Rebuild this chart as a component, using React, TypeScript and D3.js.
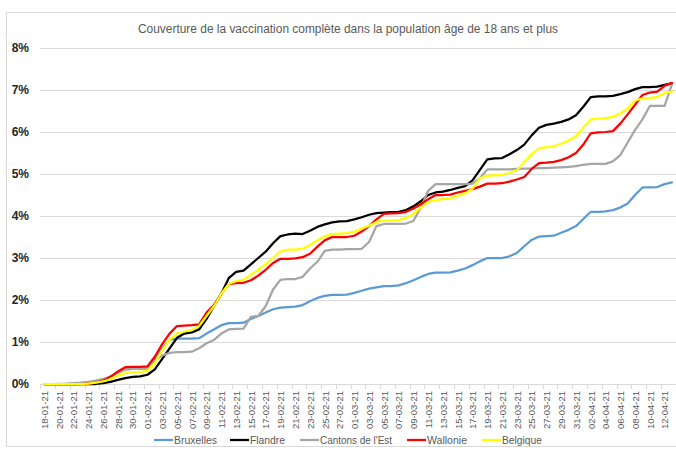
import { useEffect, useRef } from "react";
import * as d3 from "d3";

// one point per day, 18-01-21 .. 13-04-21
const dates = d3.timeDay.range(new Date(2021, 0, 18), new Date(2021, 3, 14));
const fmt = d3.timeFormat("%d-%m-%y");
const categories = dates.map((d) => fmt(d));

const yTicks = [0, 1, 2, 3, 4, 5, 6, 7, 8];

const bruxelles = [
  0, 0, 0, 0, 0, 0, 0.02, 0.05, 0.1, 0.18, 0.27, 0.35, 0.36, 0.36, 0.37, 0.6, 0.85, 1.05, 1.08, 1.08,
  1.08, 1.09, 1.2, 1.3, 1.4, 1.45, 1.45, 1.46, 1.55, 1.62, 1.7, 1.78, 1.82, 1.83, 1.84, 1.88, 1.97, 2.05, 2.1, 2.12,
  2.12, 2.13, 2.17, 2.22, 2.27, 2.3, 2.33, 2.33, 2.35, 2.4, 2.47, 2.55, 2.62, 2.65, 2.65, 2.66, 2.7, 2.75, 2.83, 2.92,
  3.0, 3.0, 3.0, 3.04, 3.12, 3.28, 3.43, 3.51, 3.52, 3.53, 3.6, 3.67, 3.76, 3.93, 4.1, 4.1, 4.11, 4.14, 4.2, 4.3,
  4.5, 4.68, 4.68, 4.69, 4.76, 4.8,
];
const flandre = [
  0, 0, 0, 0, 0, 0, 0, 0, 0.02, 0.05, 0.1, 0.14, 0.17, 0.18, 0.22, 0.35, 0.6, 0.85, 1.1, 1.2,
  1.23, 1.3, 1.55, 1.85, 2.15, 2.52, 2.67, 2.7, 2.85, 3.0, 3.15, 3.35, 3.52, 3.56, 3.58, 3.57, 3.65, 3.74, 3.8, 3.85,
  3.87, 3.88, 3.92, 3.97, 4.03, 4.07, 4.08, 4.09, 4.1, 4.14, 4.23, 4.35, 4.5, 4.56, 4.58, 4.62, 4.67, 4.71, 4.85, 5.1,
  5.35, 5.37, 5.38, 5.47, 5.57, 5.7, 5.92, 6.1, 6.17, 6.2, 6.24, 6.3, 6.4, 6.6, 6.83, 6.85, 6.85, 6.86, 6.9, 6.95,
  7.02, 7.07, 7.07, 7.08, 7.12, 7.16,
];
const cantons = [
  0, 0, 0.005, 0.01, 0.02, 0.03, 0.05, 0.08, 0.12, 0.18, 0.27, 0.35, 0.36, 0.36, 0.37, 0.55, 0.68, 0.74, 0.76, 0.76,
  0.77, 0.85, 0.97, 1.05, 1.2, 1.3, 1.31, 1.32, 1.6, 1.62, 1.85, 2.25, 2.48, 2.5, 2.5, 2.55, 2.75, 2.91, 3.17, 3.2,
  3.2, 3.21, 3.21, 3.22, 3.38, 3.76, 3.81, 3.81, 3.81, 3.82, 3.88, 4.2, 4.6, 4.76, 4.76, 4.76, 4.76, 4.76, 4.77, 4.9,
  5.11, 5.11, 5.11, 5.11, 5.12, 5.13, 5.13, 5.14, 5.14, 5.15, 5.16, 5.17, 5.19, 5.22, 5.24, 5.24, 5.24, 5.3, 5.45, 5.75,
  6.05, 6.3, 6.62, 6.62, 6.62, 7.14,
];
const wallonie = [
  0, 0, 0, 0, 0, 0, 0.01, 0.03, 0.08, 0.17, 0.3, 0.4, 0.41, 0.41, 0.42, 0.65, 0.95, 1.2, 1.38, 1.39,
  1.4, 1.42, 1.7, 1.88, 2.15, 2.38, 2.4, 2.41, 2.47, 2.58, 2.72, 2.88, 2.98, 2.98, 2.99, 3.02, 3.1, 3.27, 3.42, 3.5,
  3.5, 3.5, 3.53, 3.63, 3.76, 3.92, 4.05, 4.06, 4.07, 4.1, 4.18, 4.28, 4.4, 4.5, 4.5, 4.51, 4.56, 4.6, 4.64, 4.7,
  4.77, 4.77, 4.78, 4.82, 4.87, 4.93, 5.12, 5.26, 5.27, 5.29, 5.33, 5.4, 5.5, 5.7, 5.97, 5.99, 6.0, 6.02, 6.2, 6.42,
  6.65, 6.88, 6.94, 6.96, 7.1, 7.17,
];
const belgique = [
  0, 0, 0, 0, 0, 0, 0.01, 0.03, 0.06, 0.12, 0.2, 0.26, 0.28, 0.29, 0.31, 0.5, 0.8, 1.05, 1.2, 1.25,
  1.28, 1.38, 1.62, 1.85, 2.15, 2.38, 2.45, 2.48, 2.6, 2.72, 2.85, 3.0, 3.16, 3.2, 3.2, 3.22, 3.31, 3.42, 3.52, 3.57,
  3.58, 3.59, 3.63, 3.7, 3.77, 3.86, 3.89, 3.89, 3.9, 3.95, 4.05, 4.2, 4.33, 4.38, 4.4, 4.42, 4.48, 4.54, 4.65, 4.9,
  4.96, 4.97, 4.98, 5.03, 5.09, 5.28, 5.47, 5.61, 5.64, 5.66, 5.72, 5.8, 5.9, 6.1, 6.3, 6.32, 6.33, 6.36, 6.44, 6.56,
  6.75, 6.8, 6.81, 6.83, 6.93, 6.96,
];

const series = [
  { name: "Bruxelles", values: bruxelles, color: "#5B9BD5" },
  { name: "Flandre", values: flandre, color: "#000000" },
  { name: "Cantons de l'Est", values: cantons, color: "#A5A5A5" },
  { name: "Wallonie", values: wallonie, color: "#FF0000" },
  { name: "Belgique", values: belgique, color: "#FFFF00" },
];

const W = 676;
const H = 450;

export default function App() {
  const svgRef = useRef<SVGSVGElement>(null);

  useEffect(() => {
    const svg = d3.select(svgRef.current);
    svg.selectAll("*").remove();

    const x = d3.scalePoint().domain(categories).range([44, 672]);
    const step = x.step();
    const y = d3.scaleLinear().domain([0, 8]).range([384, 48]);

    // chart border
    svg.append("rect")
      .attr("x", 6.5).attr("y", 12.5)
      .attr("width", W).attr("height", H - 16)
      .attr("fill", "#fff").attr("stroke", "#d9d9d9");

    svg.append("text")
      .attr("x", 348).attr("y", 33)
      .attr("text-anchor", "middle")
      .attr("font-family", "Liberation Sans, Arial, sans-serif")
      .attr("font-size", 12)
      .attr("fill", "#595959")
      .attr("textLength", 420)
      .attr("lengthAdjust", "spacingAndGlyphs")
      .text("Couverture de la vaccination complète dans la population âge de 18 ans et plus");

    // gridlines + y labels
    const x0 = x(categories[0])! - step / 2;
    const x1 = W;
    svg.append("g")
      .selectAll("line")
      .data(yTicks)
      .join("line")
      .attr("x1", x0).attr("x2", x1)
      .attr("y1", (d) => Math.round(y(d)) + 0.5)
      .attr("y2", (d) => Math.round(y(d)) + 0.5)
      .attr("stroke", "#d9d9d9");

    svg.append("g")
      .selectAll("text")
      .data(yTicks)
      .join("text")
      .attr("x", 29)
      .attr("y", (d) => y(d))
      .attr("dy", "0.35em")
      .attr("text-anchor", "end")
      .attr("font-family", "Liberation Sans, Arial, sans-serif")
      .attr("font-weight", "bold")
      .attr("font-size", 12)
      .attr("fill", "#262626")
      .text((d) => `${d}%`);

    // x ticks and labels every two days
    const labelled = categories.filter((_, i) => i % 2 === 0);
    svg.append("g")
      .selectAll("line")
      .data(labelled)
      .join("line")
      .attr("x1", (d) => Math.round(x(d)! - step / 2) + 0.5)
      .attr("x2", (d) => Math.round(x(d)! - step / 2) + 0.5)
      .attr("y1", 384).attr("y2", 389)
      .attr("stroke", "#d9d9d9");

    svg.append("g")
      .selectAll("text")
      .data(labelled)
      .join("text")
      .attr("transform", (d) => `translate(${x(d)! + 0.5},391) rotate(-90)`)
      .attr("dy", "0.35em")
      .attr("text-anchor", "end")
      .attr("font-family", "Liberation Sans, Arial, sans-serif")
      .attr("font-size", 9.5)
      .attr("fill", "#595959")
      .text((d) => d);

    // lines
    const line = d3.line<number>()
      .x((_, i) => x(categories[i])!)
      .y((d) => y(d));

    svg.append("g")
      .selectAll("path")
      .data(series)
      .join("path")
      .attr("d", (s) => line(s.values))
      .attr("fill", "none")
      .attr("stroke", (s) => s.color)
      .attr("stroke-width", 2.25)
      .attr("stroke-linejoin", "round")
      .attr("stroke-linecap", "round");

    // legend (Calibri-like narrow widths)
    const legendX = [154, 230, 300, 407, 482];
    const legendW = [43, 35, 72, 40, 40];
    const lg = svg.append("g")
      .selectAll("g")
      .data(series)
      .join("g")
      .attr("transform", (_, i) => `translate(${legendX[i]},440)`);
    lg.append("line")
      .attr("x1", 0).attr("x2", 19)
      .attr("stroke", (s) => s.color)
      .attr("stroke-width", 2.25);
    lg.append("text")
      .attr("x", 20)
      .attr("dy", "0.35em")
      .attr("font-family", "Liberation Sans, Arial, sans-serif")
      .attr("font-size", 11)
      .attr("fill", "#595959")
      .attr("textLength", (_, i) => legendW[i])
      .attr("lengthAdjust", "spacingAndGlyphs")
      .text((s) => s.name);
  }, []);

  return (
    <div style={{ position: "fixed", left: 0, top: 0, width: W, height: H, background: "#fff" }}>
      <svg ref={svgRef} width={W} height={H} />
    </div>
  );
}
